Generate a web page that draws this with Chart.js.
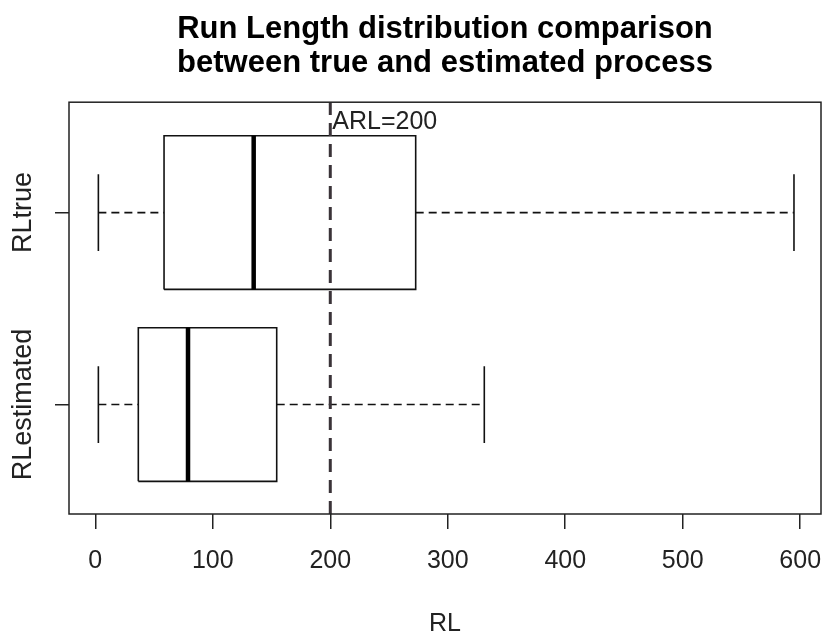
<!DOCTYPE html>
<html><head><meta charset="utf-8">
<script src="https://cdn.jsdelivr.net/npm/chart.js@4"></script>
<style>html,body{margin:0;padding:0;background:#fff}#wrap{width:823px;height:640px}</style>
</head><body><div id="wrap"><canvas id="c" width="823" height="640"></canvas></div>
<script>
// ---- data ----
const categories = ['RLtrue', 'RLestimated'];
const whiskerLow  = [2.6, 2.6];
const q1          = [58.5, 36.6];
const median      = [134.8, 78.9];
const q3          = [272.7, 154.4];
const whiskerHigh = [594.7, 331.1];
const xTicks = [0, 100, 200, 300, 400, 500, 600];
const arl = 200;
const arlLabel = 'ARL=' + arl;
const chartTitle = ['Run Length distribution comparison', 'between true and estimated process'];
const xLabel = 'RL';

// ---- construction ----
const X_MIN = -22.4, X_MAX = 617.7, Y_MIN = 0.43, Y_MAX = 2.575;
const BOXW = 0.4, CAPW = 0.2;
const FONT = "'Liberation Sans', Arial, sans-serif";
const pos = i => categories.length - i;
const datasets = [];
const seg = (pts, extra) => datasets.push(Object.assign({
  data: pts, showLine: true, pointRadius: 0, borderColor: '#111', borderWidth: 1.6,
  fill: false, borderCapStyle: 'butt', borderJoinStyle: 'miter'
}, extra || {}));

// reference line (first dataset -> drawn on top)
seg([{x: arl, y: Y_MIN}, {x: arl, y: Y_MAX}], {borderDash: [13, 8], borderWidth: 3, borderColor: '#3a3338'});

categories.forEach((c, i) => {
  const p = pos(i);
  seg([{x: median[i], y: p - BOXW}, {x: median[i], y: p + BOXW}], {borderWidth: 4.5, borderColor: '#000'});
  seg([{x: q1[i], y: p - BOXW}, {x: q3[i], y: p - BOXW}, {x: q3[i], y: p + BOXW}, {x: q1[i], y: p + BOXW}, {x: q1[i], y: p - BOXW}]);
  seg([{x: whiskerLow[i], y: p}, {x: q1[i], y: p}], {borderDash: [8, 5]});
  seg([{x: q3[i], y: p}, {x: whiskerHigh[i], y: p}], {borderDash: [8, 5]});
  seg([{x: whiskerLow[i], y: p - CAPW}, {x: whiskerLow[i], y: p + CAPW}]);
  seg([{x: whiskerHigh[i], y: p - CAPW}, {x: whiskerHigh[i], y: p + CAPW}]);
});

const decor = {
  id: 'decor',
  afterLayout(chart) {
    // centre the title over the plot region, as in the reference
    const t = chart.titleBlock;
    if (t) { t.left = chart.chartArea.left; t.right = chart.chartArea.right; }
  },
  afterDatasetsDraw(chart) {
    const {ctx, chartArea: a, scales: {x, y}} = chart;
    ctx.save();
    ctx.strokeStyle = '#222';
    ctx.lineWidth = 1.5;
    ctx.strokeRect(a.left, a.top, a.right - a.left, a.bottom - a.top);
    // ARL annotation
    ctx.fillStyle = '#222';
    ctx.font = '25px ' + FONT;
    ctx.textAlign = 'left';
    ctx.textBaseline = 'alphabetic';
    ctx.fillText(arlLabel, x.getPixelForValue(arl) + 2, y.getPixelForValue(2.435));
    // y category labels (rotated)
    ctx.font = '27px ' + FONT;
    ctx.textAlign = 'center';
    ctx.textBaseline = 'middle';
    categories.forEach((c, i) => {
      ctx.save();
      ctx.translate(24, y.getPixelForValue(pos(i)));
      ctx.rotate(-Math.PI / 2);
      ctx.fillText(c, 0, 0);
      ctx.restore();
    });
    ctx.restore();
  }
};

new Chart(document.getElementById('c'), {
  type: 'scatter',
  data: {datasets},
  plugins: [decor],
  options: {
    responsive: false, animation: false, events: [],
    layout: {padding: {left: 0, right: 2, top: 0, bottom: 0}},
    plugins: {
      legend: {display: false},
      tooltip: {enabled: false},
      title: {display: true, text: chartTitle, color: '#000',
        font: {family: FONT, size: 31, weight: 'bold', lineHeight: 1.1},
        padding: {top: 12, bottom: 22}}
    },
    scales: {
      x: {
        type: 'linear', min: X_MIN, max: X_MAX,
        afterBuildTicks: s => { s.ticks = xTicks.map(v => ({value: v})); },
        afterFit: s => { s.height = 126; s.paddingLeft = 0; s.paddingRight = 0; },
        grid: {drawOnChartArea: false, drawTicks: true, tickLength: 15, color: '#222', lineWidth: 1.5},
        border: {display: false},
        ticks: {color: '#222', font: {family: FONT, size: 25}, padding: 17, maxRotation: 0, minRotation: 0, autoSkip: false},
        title: {display: true, text: xLabel, color: '#222', font: {family: FONT, size: 25}, padding: {top: 0, bottom: 1}}
      },
      y: {
        type: 'linear', min: Y_MIN, max: Y_MAX,
        afterBuildTicks: s => { s.ticks = categories.map((c, i) => ({value: pos(i)})); },
        afterFit: s => { s.width = 69; s.paddingTop = 0; s.paddingBottom = 0; },
        grid: {drawOnChartArea: false, drawTicks: true, tickLength: 14, color: '#222', lineWidth: 1.5},
        border: {display: false},
        ticks: {display: false}
      }
    }
  }
});
</script>
</body></html>
